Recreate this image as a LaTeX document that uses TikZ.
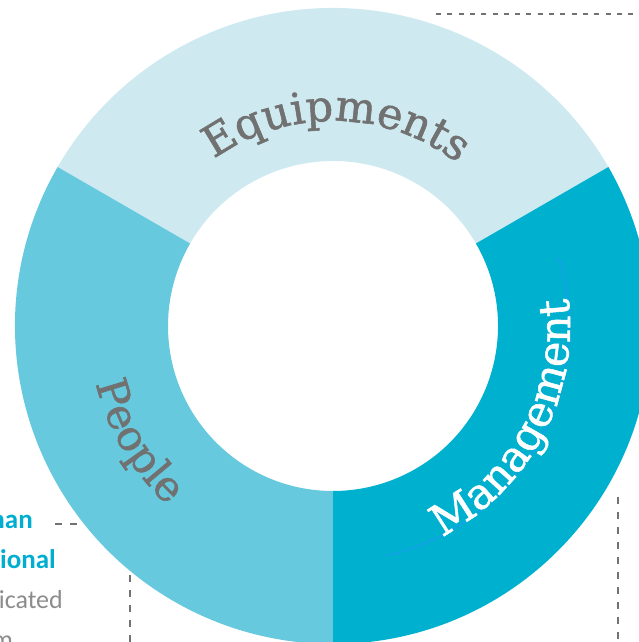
\documentclass[tikz,border=0pt]{standalone}
\usepackage{fontspec}
\setmainfont{DejaVu Serif}
\newfontfamily\ringfont[FakeBold=1.3]{DejaVu Serif}
\newfontfamily\sidefont{Carlito}
\usetikzlibrary{decorations.text}
\definecolor{eqcol}{HTML}{CEEAF0}
\definecolor{pecol}{HTML}{66C9DD}
\definecolor{macol}{HTML}{00B1CF}
\definecolor{txtgray}{HTML}{717171}
\definecolor{dashgray}{HTML}{727272}
\definecolor{cyantxt}{HTML}{00AECF}
\definecolor{lightgray}{HTML}{8C8C8C}
\definecolor{pathblue}{HTML}{1A9CF0}
\tikzset{
  dashfine/.style={draw=dashgray, line width=2.4pt, dash pattern=on 5pt off 6.3pt},
  dashwide/.style={draw=dashgray, line width=2.4pt, dash pattern=on 7pt off 8pt},
  sidebold/.style={font=\sidefont\bfseries\fontsize{27}{27}\selectfont, text=cyantxt, anchor=base east, inner sep=0pt},
  sidelight/.style={font=\sidefont\fontsize{26}{26}\selectfont, text=lightgray, anchor=base east, inner sep=0pt},
  blueline/.style={draw=pathblue, line width=1.1pt}
}
\begin{document}
\begin{tikzpicture}[x=1pt,y=1pt]
\useasboundingbox (0,0) rectangle (639,642);
\clip (0,0) rectangle (639,642);
% dashed leader lines (beneath the ring)
\draw[dashfine] (436,628) -- (639,628);
\draw[dashwide] (55,118) -- (333,118);
\draw[dashwide] (130,0) -- (130,300);
\draw[dashwide] (618,145) -- (618,0);
% side texts
\node[sidebold] (t1) at (33,113) {han};
\node[sidebold] (t2) at (56,73) {ional};
\node[sidelight] (t3) at (63,33) {icated};
\node[sidelight] (t4) at (13,-6) {m};
\begin{scope}[shift={(333,316)}]
  \fill[eqcol] (30:318) arc[start angle=30,end angle=150,radius=318] -- (150:165) arc[start angle=150,end angle=30,radius=165] -- cycle;
  \fill[pecol] (150:318) arc[start angle=150,end angle=270,radius=318] -- (270:165) arc[start angle=270,end angle=150,radius=165] -- cycle;
  \fill[macol] (-90:318) arc[start angle=-90,end angle=30,radius=318] -- (30:165) arc[start angle=30,end angle=-90,radius=165] -- cycle;
  \draw[blueline] (-77:236) arc[start angle=-77,end angle=17,radius=236];
  \path[decorate, decoration={text along path, text align=center, text color=txtgray,
     text={|\ringfont\fontsize{43}{43}\selectfont|Equipments}}]
     (128:205) arc[start angle=128,end angle=50,radius=205];
  \path[decorate, decoration={text along path, text align=center, text color=txtgray,
     text={|\ringfont\fontsize{42}{42}\selectfont|People}}]
     (180:244) arc[start angle=180,end angle=241,radius=244];
  \path[decorate, decoration={text along path, text align=center, text color=white,
     text={|\ringfont\fontsize{43}{43}\selectfont|Management}}]
     (-76:237) arc[start angle=-76,end angle=20,radius=237];
\end{scope}
\end{tikzpicture}
\end{document}
